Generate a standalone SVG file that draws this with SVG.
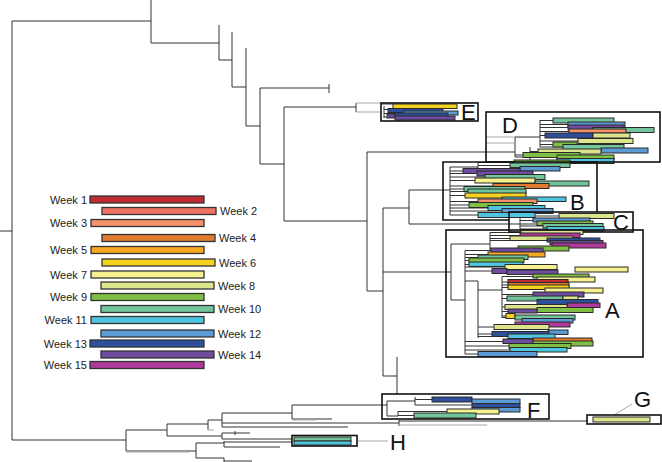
<svg xmlns="http://www.w3.org/2000/svg" width="662" height="462" viewBox="0 0 662 462">
<style>
.t{fill:none;stroke:#333;stroke-width:1}
.g{fill:none;stroke:#a8a8a8;stroke-width:1}
.bars rect{stroke:#2a2a2a;stroke-width:1}
.bars .box{fill:none;stroke:#111;stroke-width:1.6}
.leg rect{stroke:#333;stroke-width:1.3}
.lbl{font-family:"Liberation Sans",Arial,sans-serif;font-size:11px;fill:#222}
.big{font-family:"Liberation Sans",Arial,sans-serif;font-size:22px;fill:#111}
.w1{fill:#bf2a33}.w2{fill:#ef7162}.w3{fill:#f4916b}.w4{fill:#e07b2f}.w5{fill:#f7a823}
.w6{fill:#f4d21f}.w7{fill:#f6f08e}.w8{fill:#dde58c}.w9{fill:#80bf45}.w10{fill:#72c49a}
.w11{fill:#4fc4de}.w12{fill:#5b9bd6}.w13{fill:#2e4f9c}.w14{fill:#6e4c9e}.w15{fill:#b0399a}
</style>
<rect width="662" height="462" fill="#fff"/>
<g id="connectors">
<path class="t" d="M0,231 H12 M12,21 V440 M12,21 H151 M151,0 V43 M151,43 H219 M219,25 V60 H232 M232,32 V87 H246 M246,48 V126 H260 M260,88 V164 M260,88 H329 M329,84 V93 M260,164 H284 M284,107 V221 M284,107 H356 M356,103 V112 M284,221 H367 M367,152 V291 M367,152 H486 M367,291 H383 M383,208 V376 M383,208 H409 M409,190 V224 M409,190 H443 M409,224 H509 M383,272 H446 M383,376 H397 M397,357 V394"/>
<path class="g" d="M356,103 H381 M356,112 H381"/>
<path class="t" d="M12,440 H126 M126,430 V451 M126,430 H167 M167,424 V436 M167,424 H208 M208,420 V430 M208,420 H222 M222,413 V427 M222,413 H292 M292,405 V419 M292,405 H383 M292,419 H332 M222,423 H399 M399,420 V426 M399,421 H587 M222,427 H348 M167,436 H222 M222,433 V439 M222,433 H250 M235,431 V435 M222,439 H292 M126,451 H196 M196,443 V458 M196,443 H224 M224,441 V447 M224,442 H292 M224,447 H280 M196,458 H224 M224,458 V462 M224,461 H252"/>
<path class="g" d="M399,425 H487 M357,441 H388 M208,430 H214 M126,452 H190 M292,420 H316"/>
<path class="g" d="M614,415 L632,404"/>
<!-- inner trees -->
<path class="t" d="M381,104 H393 M384,106 V118 M384,109.5 H388 M384,113.5 H403 M384,117 H387"/>
<path class="t" d="M486,152 H515 M515,137 V157 M515,137 H540 M540,120 V147 M540,120.5 H553 M540,124.5 H568 M540,127.5 H568 M540,131.5 H569 M540,135.5 H545 M540,141 H578 M540,144.5 H553 M540,147 H563 M515,157 H530 M530,147 V161 M530,151.5 H538 M530,157.5 H557 M530,161 H557 M515,155 H523"/>
<path class="g" d="M486,143 H515 M486,137 H515"/>
<path class="t" d="M443,190 H450 M450,167 V215 M450,171 H463 M450,173.5 H477 M450,177 H485 M450,180.5 H475 M450,186 H493 M450,189 H464 M450,191.5 H468 M450,195.5 H465 M450,201.5 H478 M450,205 H469 M450,208 H488 M450,211 H502 M450,215 H478 M450,167 H478 M478,162.5 V169 M478,162.5 H514 M478,165.5 H510 M478,169 H520"/>
<path class="t" d="M509,224 H520 M520,216 V229 M520,216 H559 M520,220.5 H533 M520,224 H537 M520,226 H543 M520,229 H547"/>
<path class="t" d="M446,272 H451 M451,244 V300 M451,244 H490 M490,232.5 V250 M490,232.5 H521 M490,235.5 H520 M490,238.5 H510 M490,240.5 H547 M490,248.5 H518 M451,300 H465 M465,250.5 V354 M465,250.5 H491 M465,254.5 H488 M465,257.5 H478 M465,260.5 H469 M465,264.5 H469 M465,267 H505 M465,271 H492 M465,281 H478 M478,281 V338 M478,290 H502 M502,276.5 V318 M502,276.5 H533 M502,282 H508 M502,285 H508 M502,287.5 H508 M502,294.5 H533 M502,298.5 H507 M502,307 H505 M502,311.5 H508 M502,316 H506 M502,317.5 H515 M478,327 H494 M478,334 H492 M478,336.5 H508 M465,341.5 H503 M465,346 H509 M465,350 H510 M465,354 H478"/>
<path class="t" d="M383,405 H387 M387,401 V416 M387,401 H415 M415,397 V405 M415,399.5 H432 M415,405 H472 M387,416 H398 M398,411 V416 M398,411.5 H447 M398,415.5 H414"/>
</g>
<g id="legend" class="leg">
<rect class="w1" x="90" y="196" width="114" height="7"/>
<rect class="w2" x="102" y="207.5" width="114" height="7"/>
<rect class="w3" x="91" y="219.5" width="113" height="7"/>
<rect class="w4" x="102" y="234.5" width="113" height="7"/>
<rect class="w5" x="91" y="246.5" width="113" height="7"/>
<rect class="w6" x="102" y="259" width="113" height="7"/>
<rect class="w7" x="91" y="271" width="113" height="7"/>
<rect class="w8" x="101" y="282" width="113" height="7"/>
<rect class="w9" x="91" y="293.5" width="113" height="7"/>
<rect class="w10" x="101" y="305.5" width="113" height="7"/>
<rect class="w11" x="91" y="316.5" width="113" height="7"/>
<rect class="w12" x="101" y="330" width="113" height="7"/>
<rect class="w13" x="90" y="340" width="114" height="7"/>
<rect class="w14" x="101" y="351" width="113" height="7"/>
<rect class="w15" x="90" y="361.5" width="114" height="7"/>
<g class="lbl" text-anchor="end">
<text x="87" y="203.5">Week 1</text>
<text x="87" y="227">Week 3</text>
<text x="87" y="254">Week 5</text>
<text x="87" y="278.5">Week 7</text>
<text x="87" y="301">Week 9</text>
<text x="87" y="324">Week 11</text>
<text x="87" y="347.5">Week 13</text>
<text x="87" y="369">Week 15</text>
</g>
<g class="lbl">
<text x="220" y="215">Week 2</text>
<text x="219" y="242">Week 4</text>
<text x="219" y="266.5">Week 6</text>
<text x="218" y="289.5">Week 8</text>
<text x="218" y="313">Week 10</text>
<text x="218" y="337.5">Week 12</text>
<text x="218" y="358.5">Week 14</text>
</g>
</g>
<g id="E" class="bars">
<rect class="w6" x="393" y="104" width="64" height="4.5"/>
<rect class="w13" x="388" y="108.5" width="55" height="4"/>
<rect class="w12" x="403" y="111" width="55" height="4"/>
<rect class="w13" x="388" y="113" width="60" height="3.5"/>
<rect class="w14" x="387" y="114" width="8" height="4"/>
<rect class="w14" x="395" y="116" width="60" height="4"/>
<rect class="box" x="381" y="103" width="97" height="18"/>
<text class="big" x="461" y="120">E</text>
</g>
<g id="D" class="bars">
<rect class="w10" x="553" y="118" width="61" height="5"/>
<rect class="w12" x="568" y="122" width="57" height="5"/>
<rect class="w14" x="568" y="125" width="56" height="5"/>
<rect class="w10" x="593" y="127.5" width="61" height="5"/>
<rect class="w3" x="569" y="129" width="57" height="4"/>
<rect class="w13" x="545" y="133" width="48" height="5"/>
<rect class="w8" x="593" y="133" width="37" height="5"/>
<rect class="w8" x="578" y="138.5" width="55" height="5"/>
<rect class="w9" x="553" y="142" width="24" height="5"/>
<rect class="w10" x="563" y="144.5" width="61" height="5"/>
<rect class="w12" x="601" y="148" width="47" height="5"/>
<rect class="w8" x="538" y="149" width="63" height="5"/>
<rect class="w9" x="523" y="152.5" width="57" height="5"/>
<rect class="w9" x="557" y="155" width="57" height="5"/>
<rect class="w11" x="557" y="158.5" width="57" height="5"/>
<rect class="box" x="486" y="112" width="174" height="50"/>
<text class="big" x="502" y="133">D</text>
</g>
<g id="B" class="bars">
<rect class="w9" x="514" y="160" width="56" height="4.5"/>
<rect class="w10" x="510" y="163" width="60" height="4.5"/>
<rect class="w12" x="520" y="166.5" width="40" height="4.5"/>
<rect class="w14" x="463" y="168.5" width="57" height="5"/>
<rect class="w14" x="477" y="171" width="56" height="5"/>
<rect class="w10" x="485" y="174.5" width="60" height="5"/>
<rect class="w7" x="475" y="178" width="60" height="5"/>
<rect class="w10" x="535" y="181" width="54" height="5"/>
<rect class="w4" x="493" y="183.5" width="56" height="5"/>
<rect class="w10" x="464" y="186.5" width="61" height="5"/>
<rect class="w10" x="468" y="189" width="58" height="4.5"/>
<rect class="w6" x="465" y="193" width="61" height="5"/>
<rect class="w11" x="502" y="197" width="64" height="4.5"/>
<rect class="w3" x="478" y="199" width="59" height="4.5"/>
<rect class="w9" x="469" y="202.5" width="64" height="5"/>
<rect class="w11" x="488" y="205.5" width="57" height="5"/>
<rect class="w12" x="502" y="208.5" width="51" height="5"/>
<rect class="w11" x="478" y="212.5" width="57" height="5"/>
<path class="box" d="M597,212 V162 H443 V220 H509"/>
<text class="big" x="570" y="210">B</text>
</g>
<g id="C" class="bars">
<rect class="w8" x="559" y="213.5" width="55" height="5"/>
<rect class="w12" x="533" y="218" width="57" height="4"/>
<rect class="w9" x="537" y="221" width="56" height="4.5"/>
<rect class="w10" x="543" y="223.5" width="60" height="4.5"/>
<rect class="w11" x="547" y="226.5" width="57" height="4.5"/>
<rect class="box" x="509" y="212" width="124" height="20"/>
<text class="big" x="613" y="230">C</text>
</g>
<g id="A" class="bars">
<rect class="w8" x="521" y="230" width="62" height="4.5"/>
<rect class="w15" x="520" y="233" width="60" height="4.5"/>
<rect class="w8" x="510" y="236" width="63" height="4.5"/>
<rect class="w13" x="547" y="238" width="53" height="4"/>
<rect class="w14" x="550" y="240.5" width="53" height="4"/>
<rect class="w15" x="552" y="243" width="54" height="5"/>
<rect class="w9" x="518" y="246" width="51" height="5"/>
<rect class="w14" x="491" y="248" width="52" height="4.5"/>
<rect class="w5" x="488" y="252" width="57" height="5"/>
<rect class="w10" x="478" y="255" width="50" height="4.5"/>
<rect class="w9" x="469" y="258" width="55" height="4.5"/>
<rect class="w11" x="469" y="262" width="54" height="4.5"/>
<rect class="w7" x="505" y="264.5" width="52" height="5"/>
<rect class="w7" x="575" y="267" width="53" height="5"/>
<rect class="w14" x="492" y="268.5" width="15" height="5"/>
<rect class="w14" x="507" y="270" width="51" height="4.5"/>
<rect class="w9" x="533" y="274" width="56" height="4"/>
<rect class="w7" x="537" y="277" width="58" height="5"/>
<rect class="w1" x="508" y="279.5" width="60" height="4"/>
<rect class="w4" x="508" y="282.5" width="61" height="4"/>
<rect class="w6" x="508" y="285" width="61" height="4.5"/>
<rect class="w7" x="545" y="288" width="58" height="5"/>
<rect class="w14" x="533" y="292" width="51" height="5"/>
<rect class="w10" x="507" y="296" width="56" height="5"/>
<rect class="w8" x="563" y="296" width="15" height="4"/>
<rect class="w13" x="537" y="299.5" width="61" height="5"/>
<rect class="w15" x="567" y="303" width="33" height="4.5"/>
<rect class="w8" x="505" y="304.5" width="62" height="5"/>
<rect class="w9" x="537" y="307.5" width="56" height="5"/>
<rect class="w14" x="508" y="309" width="29" height="4"/>
<rect class="w6" x="506" y="313.5" width="9" height="5"/>
<rect class="w10" x="515" y="315" width="60" height="5"/>
<rect class="w12" x="522" y="318.5" width="51" height="4.5"/>
<rect class="w15" x="515" y="322" width="55" height="5"/>
<rect class="w8" x="494" y="324.5" width="55" height="5"/>
<rect class="w12" x="548" y="330" width="20" height="4.5"/>
<rect class="w13" x="492" y="331.5" width="57" height="5"/>
<rect class="w11" x="508" y="334" width="47" height="4.5"/>
<rect class="w4" x="533" y="338" width="59" height="4"/>
<rect class="w14" x="503" y="339" width="30" height="4.5"/>
<rect class="w9" x="533" y="341" width="60" height="5"/>
<rect class="w9" x="509" y="343.5" width="62" height="5"/>
<rect class="w11" x="510" y="347.5" width="57" height="4.5"/>
<rect class="w12" x="478" y="351.5" width="59" height="5"/>
<rect class="box" x="446" y="230" width="197" height="127"/>
<text class="big" x="605" y="318">A</text>
</g>
<g id="F" class="bars">
<rect class="w13" x="432" y="397" width="40" height="5"/>
<rect class="w12" x="472" y="399" width="48" height="4.5"/>
<rect class="w13" x="472" y="403.5" width="48" height="4"/>
<rect class="w12" x="472" y="407.5" width="48" height="4.5"/>
<rect class="w7" x="447" y="409" width="52" height="5"/>
<rect class="w10" x="414" y="413" width="62" height="5"/>
<rect class="box" x="382" y="394" width="167" height="25"/>
<text class="big" x="527" y="418">F</text>
</g>
<g id="G" class="bars">
<rect class="w8" x="593" y="417" width="57" height="5"/>
<rect class="box" x="587" y="415" width="74" height="9"/>
<text class="big" x="634" y="407">G</text>
</g>
<g id="H" class="bars">
<rect class="w10" x="294" y="437" width="57" height="4"/>
<rect class="w11" x="294" y="441" width="57" height="4"/>
<rect class="box" x="292" y="435.5" width="65" height="10.5"/>
<text class="big" x="390" y="450">H</text>
</g>
</svg>
